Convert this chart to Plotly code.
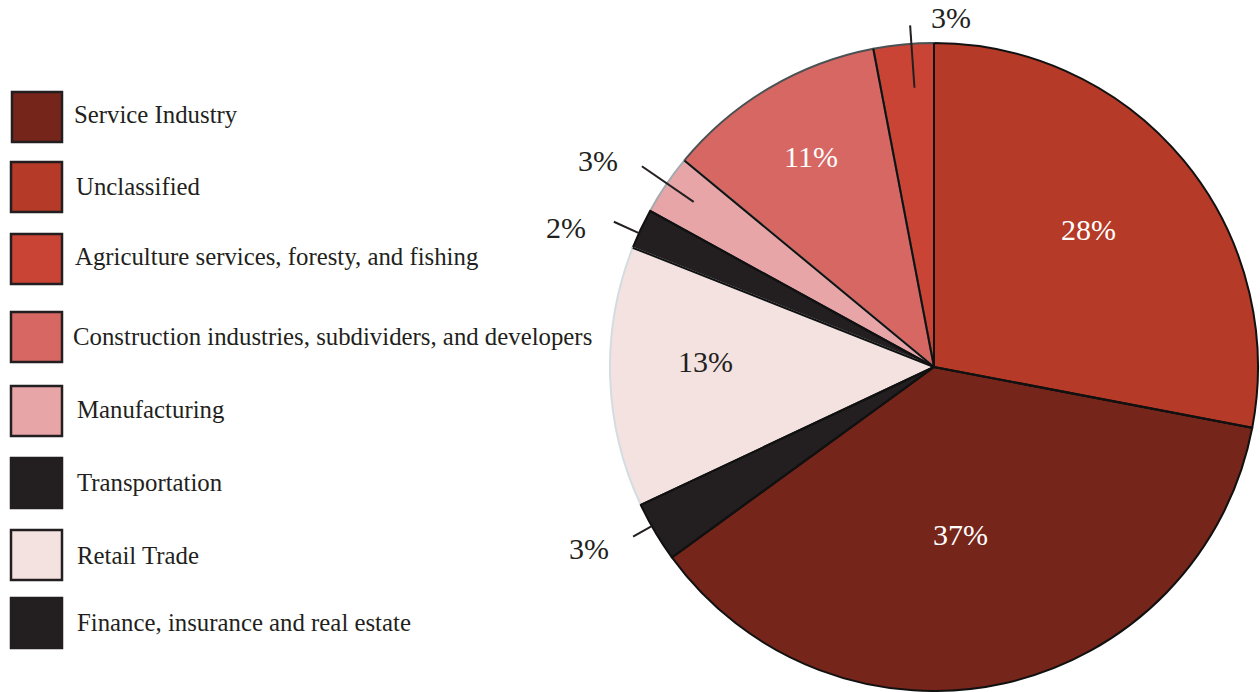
import math
import plotly.graph_objects as go

# Share of establishments by industry (percent)
sectors = [
    "Service Industry",
    "Unclassified",
    "Agriculture services, foresty, and fishing",
    "Construction industries, subdividers, and developers",
    "Manufacturing",
    "Transportation",
    "Retail Trade",
    "Finance, insurance and real estate",
]
shares = [37, 28, 3, 11, 3, 2, 13, 3]

fill_colors = ["#76251a", "#b53a28", "#c94435", "#d76763",
               "#e8a5a8", "#231f20", "#f4e2e1", "#231f20"]
arc_colors = ["#111111", "#111111", "#4b5254", "#4b5254",
              "#a3abae", "#111111", "#d3dce1", "#111111"]

W, H = 1260, 692
CX, CY, R = 934.0, 367.0, 324.0
INK = "#231f20"
FONT = "'Liberation Serif', 'Times New Roman', Times, 'DejaVu Serif', serif"

# pie placement in paper coordinates
dom_x = [(CX - R) / W, (CX + R) / W]
dom_y = [1 - (CY + R) / H, 1 - (CY - R) / H]

# slices run counter-clockwise, the first one starting where the second one ends
rotation = shares[1] * 3.6
total = float(sum(shares))
spans = []
start = rotation
end = rotation + shares[0] / total * 360
spans.append((start, end))
for v in shares[1:]:
    end = start
    start = end - v / total * 360
    spans.append((start, end))
mids = [(a + b) / 2 for a, b in spans]


def to_paper(frac, deg):
    a = math.radians(deg)
    px = CX + frac * R * math.sin(a)
    py = CY - frac * R * math.cos(a)
    return px / W, 1 - py / H


fig = go.Figure()
fig.add_trace(go.Pie(
    labels=sectors,
    values=shares,
    sort=False,
    direction="counterclockwise",
    rotation=rotation,
    marker=dict(colors=fill_colors, line=dict(color=arc_colors, width=2)),
    textinfo="none",
    hoverinfo="label+percent",
    showlegend=False,
    domain=dict(x=dom_x, y=dom_y),
))

shapes = []
annotations = []

# radial slice boundaries
for a, _ in spans:
    x1, y1 = to_paper(1.0, a)
    shapes.append(dict(type="line", xref="paper", yref="paper",
                       x0=CX / W, y0=1 - CY / H, x1=x1, y1=y1,
                       line=dict(color="#111111", width=2), layer="above"))

# labels inside the larger slices: (radius fraction, angle offset, colour)
inside = {0: (0.525, 3.5, "white"), 1: (0.64, -2.1, "white"),
          3: (0.752, 0.3, "white"), 6: (0.706, 3.1, INK)}
for i, (rf, dth, col) in inside.items():
    x, y = to_paper(rf, mids[i] + dth)
    annotations.append(dict(x=x, y=y, xref="paper", yref="paper",
                            text=f"{shares[i]}%", showarrow=False,
                            xanchor="center", yanchor="middle",
                            font=dict(family=FONT, size=30, color=col)))

# labels outside the thin slices with leader lines:
# (angle offset, inner radius, outer radius, anchor, xshift, yshift)
outside = {2: (1.4, 0.864, 1.057, "left", 19, 8),
           4: (0.3, 0.90, 1.094, "right", -22, 6),
           5: (-0.8, 1.0, 1.085, "right", -26, -6),
           7: (1.2, 1.0, 1.066, "right", -22, -11.5)}
for i, (dth, r0, r1, anchor, xs, ys) in outside.items():
    ang = mids[i] + dth
    xa, ya = to_paper(r0, ang)
    xb, yb = to_paper(r1, ang)
    shapes.append(dict(type="line", xref="paper", yref="paper",
                       x0=xa, y0=ya, x1=xb, y1=yb,
                       line=dict(color=INK, width=2), layer="above"))
    annotations.append(dict(x=xb, y=yb, xref="paper", yref="paper",
                            text=f"{shares[i]}%", showarrow=False,
                            xanchor=anchor, yanchor="middle",
                            xshift=xs, yshift=ys,
                            font=dict(family=FONT, size=30, color=INK)))

# legend: swatch boxes (left, top, right, bottom px) and text positions
swatches = [(12, 92, 62, 142), (11, 162, 62, 212), (11, 234, 62, 284),
            (11, 312, 62, 362), (11, 386, 62, 436), (11, 458, 62, 508),
            (11, 530, 62, 580), (11, 598, 62, 648)]
text_x = [72, 74, 73, 71, 75, 75, 75, 75]
text_y = [114, 186, 256, 336, 409, 482, 555, 622]
for i, name in enumerate(sectors):
    l, t, r, b = swatches[i]
    shapes.append(dict(type="rect", xref="paper", yref="paper",
                       x0=l / W, x1=r / W, y0=1 - b / H, y1=1 - t / H,
                       fillcolor=fill_colors[i],
                       line=dict(color=INK, width=2.5)))
    annotations.append(dict(x=text_x[i] / W, y=1 - text_y[i] / H,
                            xref="paper", yref="paper", text=name,
                            showarrow=False, xanchor="left", yanchor="middle",
                            font=dict(family=FONT, size=24.8, color=INK)))

fig.update_layout(
    width=W, height=H,
    margin=dict(l=0, r=0, t=0, b=0),
    paper_bgcolor="white",
    plot_bgcolor="white",
    shapes=shapes,
    annotations=annotations,
    showlegend=False,
)

fig.write_html("out.html")
